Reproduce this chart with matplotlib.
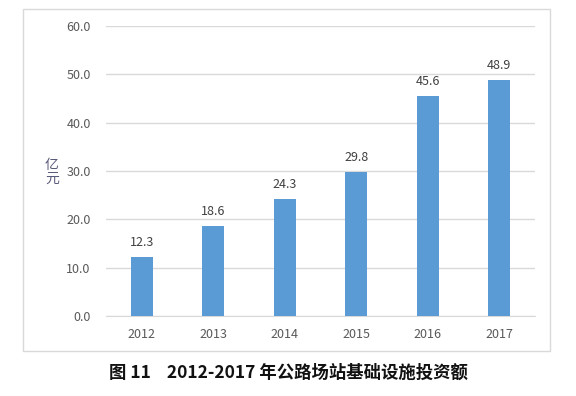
import matplotlib
matplotlib.use('Agg')
import matplotlib.pyplot as plt
from matplotlib.patches import Rectangle

plt.rcParams['font.family'] = ['Noto Sans CJK SC', 'DejaVu Sans']

years = ['2012', '2013', '2014', '2015', '2016', '2017']
invest = [12.3, 18.6, 24.3, 29.8, 45.6, 48.9]
yticks = [0, 10, 20, 30, 40, 50, 60]

W, H = 576, 396
fig = plt.figure(figsize=(W / 100, H / 100), dpi=100)
ax = fig.add_axes([106 / W, 1 - 316 / H, (535 - 106) / W, (316 - 26) / H])

x = range(len(years))
ax.bar(x, invest, width=0.31, color='#5B9BD5', zorder=3)
for i, v in zip(x, invest):
    ax.text(i, v + 1.6, f'{v:.1f}', ha='center', va='bottom', fontsize=9, color='#404040')

ax.set_xlim(-0.5, len(years) - 0.5)
ax.set_ylim(0, 60)
ax.set_yticks(yticks)
ax.set_yticklabels([f'{t:.1f}' for t in yticks])
ax.set_xticks(list(x))
ax.set_xticklabels(years)
ax.tick_params(axis='both', length=0, labelsize=9, labelcolor='#595959')
ax.tick_params(axis='y', pad=11)
ax.tick_params(axis='x', pad=9)
ax.grid(axis='y', color='#d9d9d9', linewidth=1, zorder=0)
for s in ['top', 'right', 'left']:
    ax.spines[s].set_visible(False)
ax.spines['bottom'].set_color('#d9d9d9')

fig.text(52 / W, 1 - 172 / H, '亿\n元', ha='center', va='center', fontsize=10,
         color='#5a5a7a', linespacing=1.0)

fig.patches.append(Rectangle((23 / W, 1 - 351 / H), (550 - 23) / W, (351 - 9) / H,
                             transform=fig.transFigure, fill=False,
                             edgecolor='#d9d9d9', linewidth=1))

fig.text(288 / W, 1 - 373 / H, '图 11    2012-2017 年公路场站基础设施投资额',
         ha='center', va='center', fontsize=12.5, fontweight='bold', color='#111111')

fig.savefig('out.png', dpi=100)
